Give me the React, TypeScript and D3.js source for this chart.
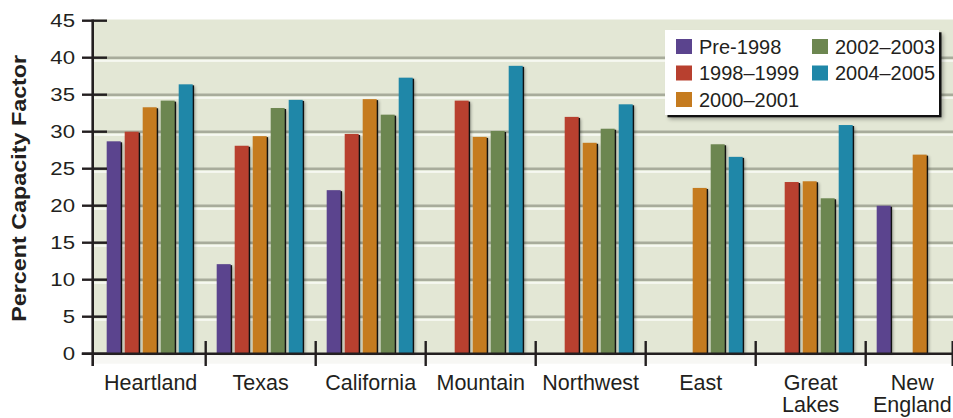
import React from "react";
import * as d3 from "d3";

const categories = ["Heartland", "Texas", "California", "Mountain", "Northwest", "East", "Great Lakes", "New England"];
const seriesNames = ["Pre-1998", "1998–1999", "2000–2001", "2002–2003", "2004–2005"];
const pre1998 = [28.7, 12.1, 22.1, null, null, null, null, 20.0];
const y1998_1999 = [30.0, 28.1, 29.7, 34.2, 32.0, null, 23.2, null];
const y2000_2001 = [33.3, 29.4, 34.4, 29.3, 28.5, 22.4, 23.3, 26.9];
const y2002_2003 = [34.2, 33.2, 32.3, 30.1, 30.4, 28.3, 21.0, null];
const y2004_2005 = [36.4, 34.3, 37.3, 38.9, 33.7, 26.6, 30.9, null];
const yTicks = [0, 5, 10, 15, 20, 25, 30, 35, 40, 45];
const yTitle = "Percent Capacity Factor";

const seriesValues = [pre1998, y1998_1999, y2000_2001, y2002_2003, y2004_2005];
const colors = ["#5b448e", "#b8402f", "#c57b1f", "#6c8650", "#1f87a8"];

const W = 953;
const H = 418;
const FONT = "'Liberation Sans', Arial, Helvetica, sans-serif";
const TEXT = "#231f20";

const plotLeft = 92.7;
const plotRight = 952.7;
const plotTop = 19.5;
const y0 = 353.7;

function measure(text: string, size: number): number {
  try {
    const c = document.createElement("canvas");
    const ctx = c.getContext("2d");
    if (ctx) {
      ctx.font = `${size}px 'Liberation Sans', Arial, sans-serif`;
      return ctx.measureText(text).width;
    }
  } catch (e) {}
  return text.length * size * 0.55;
}

export default function App() {
  const y = d3.scaleLinear().domain([0, 45]).range([y0, 20.7]);
  const x = d3.scaleBand<string>().domain(categories).range([95.7, 975.7]).padding(0);
  const x1 = d3
    .scaleBand<number>()
    .domain(d3.range(seriesNames.length))
    .range([9, 99])
    .paddingInner(4 / 18)
    .paddingOuter(2 / 18);
  const bw = x1.bandwidth();

  const bars: any[] = [];
  categories.forEach((cat, ci) => {
    seriesValues.forEach((vals, si) => {
      const v = vals[ci];
      if (v == null) return;
      bars.push({ key: `${ci}-${si}`, x: (x(cat) as number) + (x1(si) as number), y: y(v), h: y0 - y(v), color: colors[si] });
    });
  });

  const sepTicks = categories.slice(1).map((c) => x(c) as number).concat([plotRight]);

  const legendX = 665;
  const legendY = 30;
  const legendW = 274;
  const legendH = 85;
  const legendItems = seriesNames.map((name, i) => ({
    name,
    color: colors[i],
    col: Math.floor(i / 3),
    row: i % 3,
  }));

  return (
    <svg
      width={W}
      height={H}
      viewBox={`0 0 ${W} ${H}`}
      style={{ position: "absolute", left: 0, top: 0, display: "block", background: "#fff" }}
      fontFamily={FONT}
    >
      <defs>
        <filter id="blur" x="-50%" y="-10%" width="200%" height="130%">
          <feGaussianBlur stdDeviation="1.4" />
        </filter>
        <filter id="lblur" x="-10%" y="-10%" width="130%" height="140%">
          <feGaussianBlur stdDeviation="2" />
        </filter>
      </defs>
      <rect x={0} y={0} width={W} height={H} fill="#fff" />
      {/* plot background */}
      <rect x={plotLeft} y={plotTop} width={W - plotLeft} height={y0 - plotTop} fill="#e3e7d5" />
      <rect x={plotLeft} y={y0} width={W - plotLeft} height={10} fill="#f7f7f4" />
      {/* gridlines */}
      {yTicks
        .filter((t) => t > 0 && t < 45)
        .map((t) => (
          <g key={`g${t}`}>
            <rect x={plotLeft} y={y(t) + 2} width={W - plotLeft} height={2.2} fill="#f6f8f1" />
            <rect x={plotLeft} y={y(t) - 1.2} width={W - plotLeft} height={2.6} fill="#a8ac9b" />
          </g>
        ))}
      {/* bars */}
      {bars.map((b) => (
        <g key={b.key}>
          <rect x={b.x + 2.5} y={b.y + 2} width={bw} height={b.h - 2} fill="#000" opacity={0.3} filter="url(#blur)" />
          <rect x={b.x + 1.4} y={b.y + 1} width={bw} height={b.h - 1} fill="#111" />
          <rect x={b.x} y={b.y} width={bw} height={b.h} fill={b.color} />
        </g>
      ))}
      {/* axes */}
      <line x1={plotLeft} x2={plotLeft} y1={plotTop} y2={366} stroke={TEXT} strokeWidth={2.6} />
      <line x1={81.7} x2={W} y1={y0} y2={y0} stroke={TEXT} strokeWidth={2.6} />
      {yTicks.map((t) => (
        <g key={`t${t}`}>
          <line x1={82} x2={107} y1={y(t)} y2={y(t)} stroke={TEXT} strokeWidth={2.4} />
          <text
            transform={`translate(75,${y(t)}) scale(1.2,1)`}
            textAnchor="end"
            dy="0.36em"
            fontSize={18.5}
            fill={TEXT}
          >
            {t}
          </text>
        </g>
      ))}
      {sepTicks.map((sx, i) => (
        <line key={`s${i}`} x1={sx} x2={sx} y1={341} y2={366} stroke={TEXT} strokeWidth={2.4} />
      ))}
      {/* x labels */}
      {categories.map((cat) => {
        const lines = cat.split(" ");
        const wMax = Math.max(...lines.map((l) => measure(l, 22)));
        let cx = (x(cat) as number) + x.bandwidth() / 2;
        if (cx + wMax / 2 > plotRight) cx = plotRight - wMax / 2;
        return (
          <g key={cat}>
            {lines.map((l, li) => (
              <text key={li} x={cx} y={390 + li * 22.4} textAnchor="middle" fontSize={21.5} fill={TEXT}>
                {l}
              </text>
            ))}
          </g>
        );
      })}
      {/* y title */}
      <text
        transform={`translate(26,188.3) rotate(-90)`}
        textAnchor="middle"
        fontWeight="bold"
        fontSize={20}
        fill={TEXT}
        textLength={267}
        lengthAdjust="spacingAndGlyphs"
      >
        {yTitle}
      </text>
      {/* legend */}
      <rect x={legendX + 4} y={legendY + 4} width={legendW} height={legendH} fill="#000" opacity={0.35} filter="url(#lblur)" />
      <rect x={legendX + 2.5} y={legendY + 2.3} width={legendW} height={legendH} fill="#111" />
      <rect x={legendX} y={legendY} width={legendW} height={legendH} fill="#fff" />
      {legendItems.map((it) => {
        const sx = legendX + 11 + it.col * 136;
        const sy = legendY + 9 + it.row * 26.5;
        return (
          <g key={it.name}>
            <rect x={sx} y={sy} width={16} height={15} fill={it.color} />
            <text x={sx + 23} y={sy + 14.5} fontSize={20} fill={TEXT}>
              {it.name}
            </text>
          </g>
        );
      })}
    </svg>
  );
}
